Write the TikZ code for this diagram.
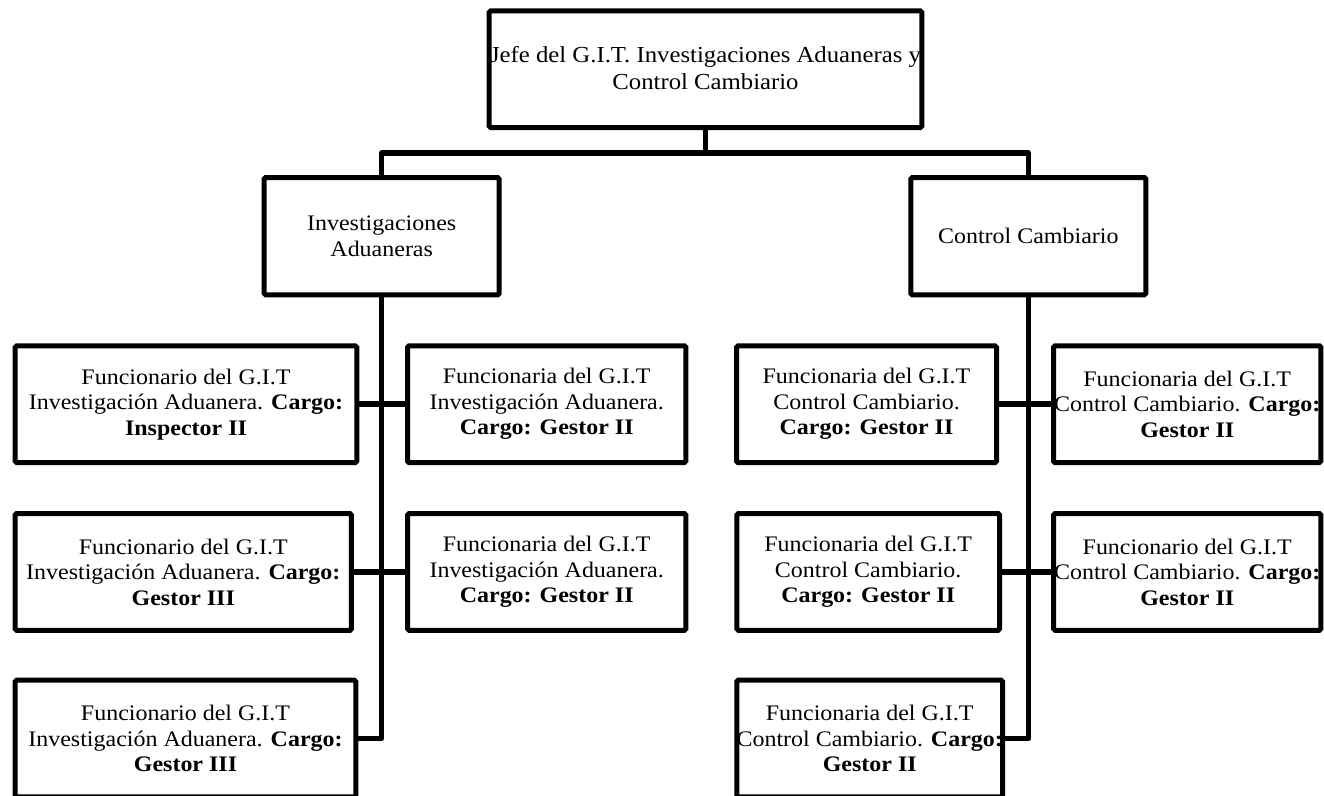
\documentclass[tikz,border=0pt]{standalone}
\usepackage{fontspec}
\setmainfont{Liberation Serif}[FakeStretch=1.08]
\begin{document}
\begin{tikzpicture}[x=1pt,y=-1pt,
  box/.style={draw=black,line width=5pt,rounded corners=1.5pt,inner sep=0pt,minimum height=116.7pt},
  txt/.style={align=center,inner sep=0pt,font=\fontsize{22.2}{25.5}\selectfont},
  toptxt/.style={align=center,inner sep=0pt,font=\fontsize{22.9}{26.8}\selectfont},
  link/.style={draw=black,line width=5.5pt,line join=round}]
\clip (0,0) rectangle (1324,795);
\fill[white] (0,0) rectangle (1324,795);
% boxes
\node[box,minimum width=432.6pt] (top) at (705.5,69.2) {};
\node[box,minimum width=235pt,minimum height=117.3pt] (midL) at (381.7,236.2) {};
\node[box,minimum width=235pt,minimum height=117.3pt] (midR) at (1028.3,236.2) {};
\node[box,minimum width=341.6pt] (L1) at (186,404.2) {};
\node[box,minimum width=278.3pt] (R1) at (546.7,404.2) {};
\node[box,minimum width=336.3pt] (L2) at (183.3,571.9) {};
\node[box,minimum width=278.3pt] (R2) at (546.7,571.9) {};
\node[box,minimum width=340.6pt] (L3) at (185.5,738.5) {};
\node[box,minimum width=260pt] (CL1) at (866.5,404.2) {};
\node[box,minimum width=267.3pt] (CR1) at (1187.2,404.2) {};
\node[box,minimum width=262.7pt] (CL2) at (868.2,571.9) {};
\node[box,minimum width=267.3pt] (CR2) at (1187.2,571.9) {};
\node[box,minimum width=265.7pt] (CL3) at (869.7,738.5) {};
% texts
\node[toptxt] (topt) at ([yshift=1.5pt]top) {Jefe del G.I.T. Investigaciones Aduaneras y\\Control Cambiario};
\node[txt] (midLt) at (midL) {Investigaciones\\Aduaneras};
\node[txt] (midRt) at (midR) {Control Cambiario};
\node[txt] (L1t) at (L1) {Funcionario del G.I.T\\Investigación Aduanera. \textbf{Cargo:}\\\textbf{Inspector II}};
\node[txt] (R1t) at (R1) {Funcionaria del G.I.T\\Investigación Aduanera.\\\textbf{Cargo: Gestor II}};
\node[txt] (L2t) at (L2) {Funcionario del G.I.T\\Investigación Aduanera. \textbf{Cargo:}\\\textbf{Gestor III}};
\node[txt] (R2t) at (R2) {Funcionaria del G.I.T\\Investigación Aduanera.\\\textbf{Cargo: Gestor II}};
\node[txt] (L3t) at (L3) {Funcionario del G.I.T\\Investigación Aduanera. \textbf{Cargo:}\\\textbf{Gestor III}};
\node[txt] (CL1t) at (CL1) {Funcionaria del G.I.T\\Control Cambiario.\\\textbf{Cargo: Gestor II}};
\node[txt] (CR1t) at (CR1) {Funcionaria del G.I.T\\Control Cambiario. \textbf{Cargo:}\\\textbf{Gestor II}};
\node[txt] (CL2t) at (CL2) {Funcionaria del G.I.T\\Control Cambiario.\\\textbf{Cargo: Gestor II}};
\node[txt] (CR2t) at (CR2) {Funcionario del G.I.T\\Control Cambiario. \textbf{Cargo:}\\\textbf{Gestor II}};
\node[txt] (CL3t) at (CL3) {Funcionaria del G.I.T\\Control Cambiario. \textbf{Cargo:}\\\textbf{Gestor II}};
% connectors
\coordinate (busL) at (381.7,153);
\coordinate (busR) at (1028.3,153);
\path[link] (top.south) |- (busL) -- (midL.north);
\path[link] (top.south) |- (busR) -- (midR.north);
\path[link] (midL.south) -- (midL.south |- L3.east) -- (L3.east);
\path[link] (L1.east) -- (R1.west);
\path[link] (L2.east) -- (R2.west);
\path[link] (midR.south) -- (midR.south |- CL3.east) -- (CL3.east);
\path[link] (CL1.east) -- (CR1.west);
\path[link] (CL2.east) -- (CR2.west);
\end{tikzpicture}
\end{document}
